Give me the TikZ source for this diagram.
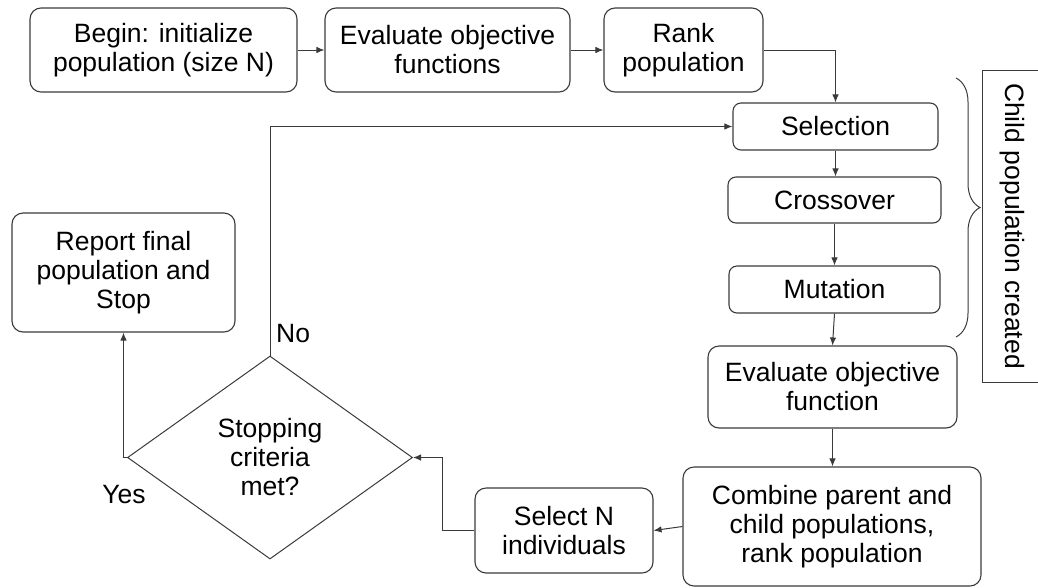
\documentclass[tikz,border=0pt]{standalone}
\usepackage{fontspec}
\setmainfont{Liberation Sans}
\usetikzlibrary{arrows.meta,shapes.geometric,decorations.pathreplacing,calc}
\definecolor{ln}{HTML}{3A3A3A}
\begin{document}
\begin{tikzpicture}[x=1pt,y=-1pt,
  every node/.style={font=\fontsize{26.5}{29}\selectfont, text=black},
  procbox/.style={draw=ln, line width=1.1pt, rounded corners=11pt, rectangle, align=center, inner sep=0pt},
  smallbox/.style={procbox, rounded corners=8pt},
  conn/.style={draw=ln, line width=1pt, -{Latex[length=8pt,width=6.5pt]}},
  plain/.style={draw=ln, line width=1pt}
]
\useasboundingbox (0,0) rectangle (1038,587);

\node[procbox, minimum width=267pt, minimum height=84pt] (begin) at (163.5,50) {Begin: initialize\\population (size N)};
\node[procbox, minimum width=245pt, minimum height=84pt] (evalA) at (447.5,50) {Evaluate objective\\functions};
\node[procbox, minimum width=159pt, minimum height=84pt] (rank) at (683.5,50) {Rank\\population};
\node[smallbox, minimum width=205pt, minimum height=47pt] (sel) at (835.5,126.5) {Selection};
\node[smallbox, minimum width=213pt, minimum height=46pt] (cross) at (834.5,200) {Crossover};
\node[smallbox, minimum width=211pt, minimum height=47pt] (mut) at (834.5,289.5) {Mutation};
\node[procbox, minimum width=249pt, minimum height=82pt] (evalB) at (832.5,387) {Evaluate objective\\function};
\node[procbox, minimum width=298pt, minimum height=119pt] (comb) at (832,526.5) {Combine parent and\\child populations,\\rank population};
\node[procbox, minimum width=178pt, minimum height=85pt] (seln) at (564,530.5) {Select N\\individuals};
\node[draw=ln, line width=1pt, diamond, minimum width=285pt, minimum height=203pt, inner sep=0pt, align=center] (dia) at (270,457.5) {Stopping\\criteria\\met?};
\node[procbox, minimum width=223pt, minimum height=119pt] (report) at (123.5,272.5) {Report final\\population and\\Stop};

\node[draw=ln, line width=1pt, rotate=-90, minimum width=312pt, minimum height=60pt, inner sep=0pt] (child) at (1012,226) {Child population created};

\draw[conn] (begin) -- (evalA);
\draw[conn] (evalA) -- (rank);
\draw[conn] (rank.east) -| (sel.north);
\draw[conn] (sel.south) -- (sel.south |- cross.north);
\draw[conn] (cross.south) -- (cross.south |- mut.north);
\draw[conn] (mut.south) -- (evalB.north);
\draw[conn] (evalB.south) -- (evalB.south |- comb.north);
\draw[conn] (comb.west) -- (seln.east);
\coordinate (bend) at ($(seln.west)+(-32,0)$);
\draw[conn] (seln.west) -- (bend) |- (dia.east);
\draw[conn] (dia.north) |- (sel.west);
\draw[conn] (dia.west) -| (report.south);

\node[anchor=west, inner sep=0pt] (no) at (276,334) {No};
\node[inner sep=0pt] (yes) at (124,495) {Yes};

\coordinate (bt) at (956,78);
\coordinate (bb) at (956,337);
\draw[plain, decorate, decoration={brace, amplitude=24pt}] (bt) -- (bb);
\end{tikzpicture}
\end{document}
